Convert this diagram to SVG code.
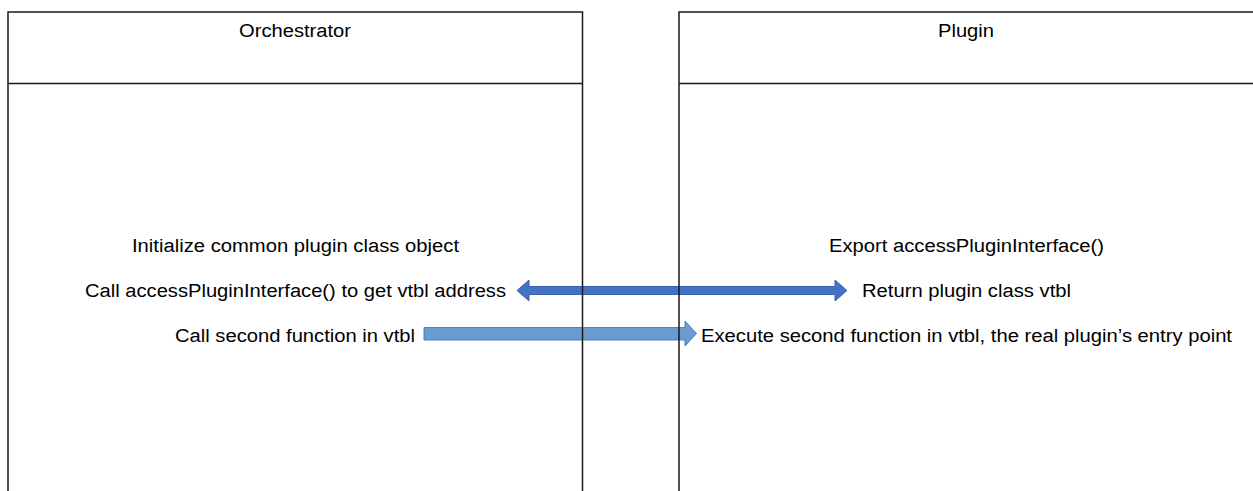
<svg xmlns="http://www.w3.org/2000/svg" width="1253" height="491" viewBox="0 0 1253 491">
<style>
.box{fill:none;stroke:#1a1a1a;stroke-width:1.5}
.t{font-family:"Liberation Sans",Arial,sans-serif;font-size:18px;fill:#000}
.a1{fill:#4472c4;stroke:#3a63ad;stroke-width:1}
.a2{fill:#6a9bd1;stroke:#4f7fbf;stroke-width:1}
</style>
<rect width="1253" height="491" fill="#fff"/>
<g id="connectors">
<polygon class="a1" points="517,290.5 529,280 529,286.5 835,286.5 835,280 847,290.5 835,301 835,294.5 529,294.5 529,301"/>
<polygon class="a2" points="424,327.5 685,327.5 685,321 696.5,333.5 685,346 685,340 424,340"/>
</g>
<g id="orchestrator">
<rect class="box" x="8" y="12" width="574.5" height="490"/>
<line class="box" x1="8" y1="83.5" x2="582.5" y2="83.5"/>
<text class="t" x="239" y="36.5" textLength="112" lengthAdjust="spacingAndGlyphs">Orchestrator</text>
<text class="t" x="132" y="251.5" textLength="327" lengthAdjust="spacingAndGlyphs">Initialize common plugin class object</text>
<text class="t" x="85" y="296.5" textLength="421" lengthAdjust="spacingAndGlyphs">Call accessPluginInterface() to get vtbl address</text>
<text class="t" x="175" y="341.5" textLength="240" lengthAdjust="spacingAndGlyphs">Call second function in vtbl</text>
</g>
<g id="plugin">
<rect class="box" x="679" y="12" width="580" height="490"/>
<line class="box" x1="679" y1="83.5" x2="1253" y2="83.5"/>
<text class="t" x="938" y="36.5" textLength="56" lengthAdjust="spacingAndGlyphs">Plugin</text>
<text class="t" x="829" y="251.5" textLength="275" lengthAdjust="spacingAndGlyphs">Export accessPluginInterface()</text>
<text class="t" x="862" y="296.5" textLength="209" lengthAdjust="spacingAndGlyphs">Return plugin class vtbl</text>
<text class="t" x="701" y="341.5" textLength="531" lengthAdjust="spacingAndGlyphs">Execute second function in vtbl, the real plugin’s entry point</text>
</g>
</svg>
